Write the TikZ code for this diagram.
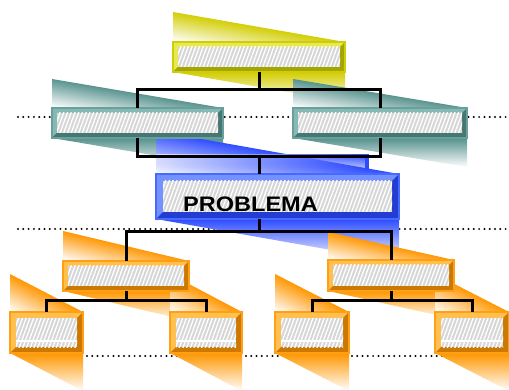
\documentclass[tikz,border=0pt]{standalone}
\usepackage{fontspec}
\newfontfamily\probfont{Liberation Sans}
\usetikzlibrary{patterns.meta,fadings}

\definecolor{ylwmain}{RGB}{205,205,10}
\definecolor{ylwlight}{RGB}{232,232,80}
\definecolor{ylwdark}{RGB}{165,165,0}
\definecolor{ylwshade}{RGB}{210,205,0}
\definecolor{tealmain}{RGB}{105,160,155}
\definecolor{teallight}{RGB}{135,185,180}
\definecolor{tealdark}{RGB}{70,120,115}
\definecolor{tealshade}{RGB}{85,145,140}
\definecolor{bluemain}{RGB}{70,105,255}
\definecolor{bluelight}{RGB}{115,145,255}
\definecolor{bluedark}{RGB}{35,60,210}
\definecolor{blueshade}{RGB}{45,75,255}
\definecolor{orgmain}{RGB}{255,160,20}
\definecolor{orglight}{RGB}{255,192,80}
\definecolor{orgdark}{RGB}{205,120,0}
\definecolor{orgshade}{RGB}{255,150,0}

\pgfdeclarelayer{back}
\pgfsetlayers{back,main}

\def\bevw{5pt}
\newcommand\boxshadow[3]{% node, colour, rise
  \begin{scope}
    \clip (#1.north west) -- ++(0,-#3) -- (#1.north east) -- cycle;
    \foreach \k in {0,...,23}{
      \pgfmathsetmacro\ta{#3*\k/24-0.5}
      \pgfmathsetmacro\tb{#3*(\k+1)/24+0.5}
      \pgfmathsetmacro\tint{100-100*(\k+0.5)/24}
      \fill[#2!\tint!white]
        ([yshift={(#3-\ta)*1pt}]#1.north west) -- ([yshift={-\ta*1pt}]#1.north east)
        -- ([yshift={-\tb*1pt}]#1.north east) -- ([yshift={(#3-\tb)*1pt}]#1.north west) -- cycle;
    }
  \end{scope}
  \shade[top color=#2, bottom color=white]
    (#1.south west) -- (#1.south east) -- ++(0,#3) -- cycle;
}

\tikzset{
  bevelw/.store in=\bevw,
  bevelbox/.style={rectangle, inner sep=0pt, outer sep=0pt, fill=#1main,
    draw=#1main, line width=1.5pt,
    path picture={
      \path (path picture bounding box.north west) coordinate (p1)
            (path picture bounding box.north east) coordinate (p2)
            (path picture bounding box.south east) coordinate (p3)
            (path picture bounding box.south west) coordinate (p4)
            ([xshift=\bevw,yshift=-\bevw]p1) coordinate (q1)
            ([xshift=-\bevw,yshift=-\bevw]p2) coordinate (q2)
            ([xshift=-\bevw,yshift=\bevw]p3) coordinate (q3)
            ([xshift=\bevw,yshift=\bevw]p4) coordinate (q4);
      \fill[#1light] (p1) -- (p2) -- (q2) -- (q1) -- (q4) -- (p4) -- cycle;
      \fill[#1dark] (p3) -- (p4) -- (q4) -- (q3) -- (q2) -- (p2) -- cycle;
      \fill[gray!32] (q1) rectangle (q3);
      \fill[pattern={Lines[angle=70,distance=3.5pt,line width=1.3pt]},
            pattern color=white] (q1) rectangle (q3);
    }},
  link/.style={line width=3pt, black},
  sepline/.style={line width=2.2pt, line cap=round, dash pattern=on 0pt off 5.3pt},
  gleam/.style={white, line width=1.2pt},
}

\begin{document}
\begin{tikzpicture}[x=1pt, y=-1pt]
  \useasboundingbox (0,0) rectangle (509,390);

  \node[bevelbox=ylw, minimum width=172pt, minimum height=30pt] (top) at (259,57) {};
  \node[bevelbox=teal, minimum width=171pt, minimum height=30pt] (midL) at (137.5,123) {};
  \node[bevelbox=teal, minimum width=174pt, minimum height=30pt] (midR) at (380,123) {};
  \node[bevelbox=blue, bevelw=7pt, minimum width=243pt, minimum height=45pt] (prob) at (277.5,196.5) {};
  \node[bevelbox=org, minimum width=126pt, minimum height=30pt] (lowL) at (126,276) {};
  \node[bevelbox=org, minimum width=126pt, minimum height=31pt] (lowR) at (391,275.5) {};
  \node[bevelbox=org, bevelw=6pt, minimum width=73pt, minimum height=41pt] (leafLL) at (46.5,332.5) {};
  \node[bevelbox=org, bevelw=6pt, minimum width=72pt, minimum height=41pt] (leafLR) at (206,332.5) {};
  \node[bevelbox=org, bevelw=6pt, minimum width=74pt, minimum height=41pt] (leafRL) at (312,332.5) {};
  \node[bevelbox=org, bevelw=6pt, minimum width=74pt, minimum height=41pt] (leafRR) at (472,332.5) {};
  \node[anchor=base west, inner sep=0pt,
        font=\probfont\bfseries\fontsize{21}{25}\selectfont] (probtxt) at (183,212)
        {\scalebox{1.12}[1]{PROBLEMA}};
  \foreach \n in {leafLL,leafLR,leafRL,leafRR}
    \draw[gleam] ([xshift=6pt,yshift=12pt]\n.south west) -- ([xshift=-6pt,yshift=12pt]\n.south east);

  \begin{pgfonlayer}{back}
    \draw[sepline] (18,117) -- (509,117);
    \draw[sepline] (18,229) -- (509,229);
    \draw[sepline] (18,356) -- (509,356);
    \boxshadow{top}{ylwshade}{30}
    \boxshadow{midL}{tealshade}{29}
    \boxshadow{midR}{tealshade}{29}
    \boxshadow{prob}{blueshade}{43}
    \shade[left color=blueshade!15!white, right color=blueshade, path fading=south]
      (156,155) rectangle (369,175);
    \fill[blueshade] (365,158) rectangle (369,169);
    \boxshadow{lowL}{orgshade}{30}
    \boxshadow{lowR}{orgshade}{28}
    \boxshadow{leafLL}{orgshade}{38}
    \boxshadow{leafLR}{orgshade}{38}
    \boxshadow{leafRL}{orgshade}{38}
    \boxshadow{leafRR}{orgshade}{38}
  \end{pgfonlayer}

  \coordinate (j1) at (259,90);
  \coordinate (j2) at (259,157);
  \coordinate (j3) at (259,232);
  \coordinate (j4) at (126,301);
  \coordinate (j5) at (391,301);
  \draw[link] (top.south) -- (j1);
  \draw[link] (midL.north) |- (j1) -| (midR.north);
  \draw[link] (midL.south) |- (j2) -| (midR.south);
  \draw[link] (j2) -- (j2 |- prob.north);
  \draw[link] (j3 |- prob.south) -- (j3);
  \draw[link] (lowL.north) |- (j3) -| (lowR.north);
  \draw[link] (lowL.south) -- (j4);
  \draw[link] (leafLL.north) |- (j4) -| (leafLR.north);
  \draw[link] (lowR.south) -- (j5);
  \draw[link] (leafRL.north) |- (j5) -| (leafRR.north);
\end{tikzpicture}
\end{document}
